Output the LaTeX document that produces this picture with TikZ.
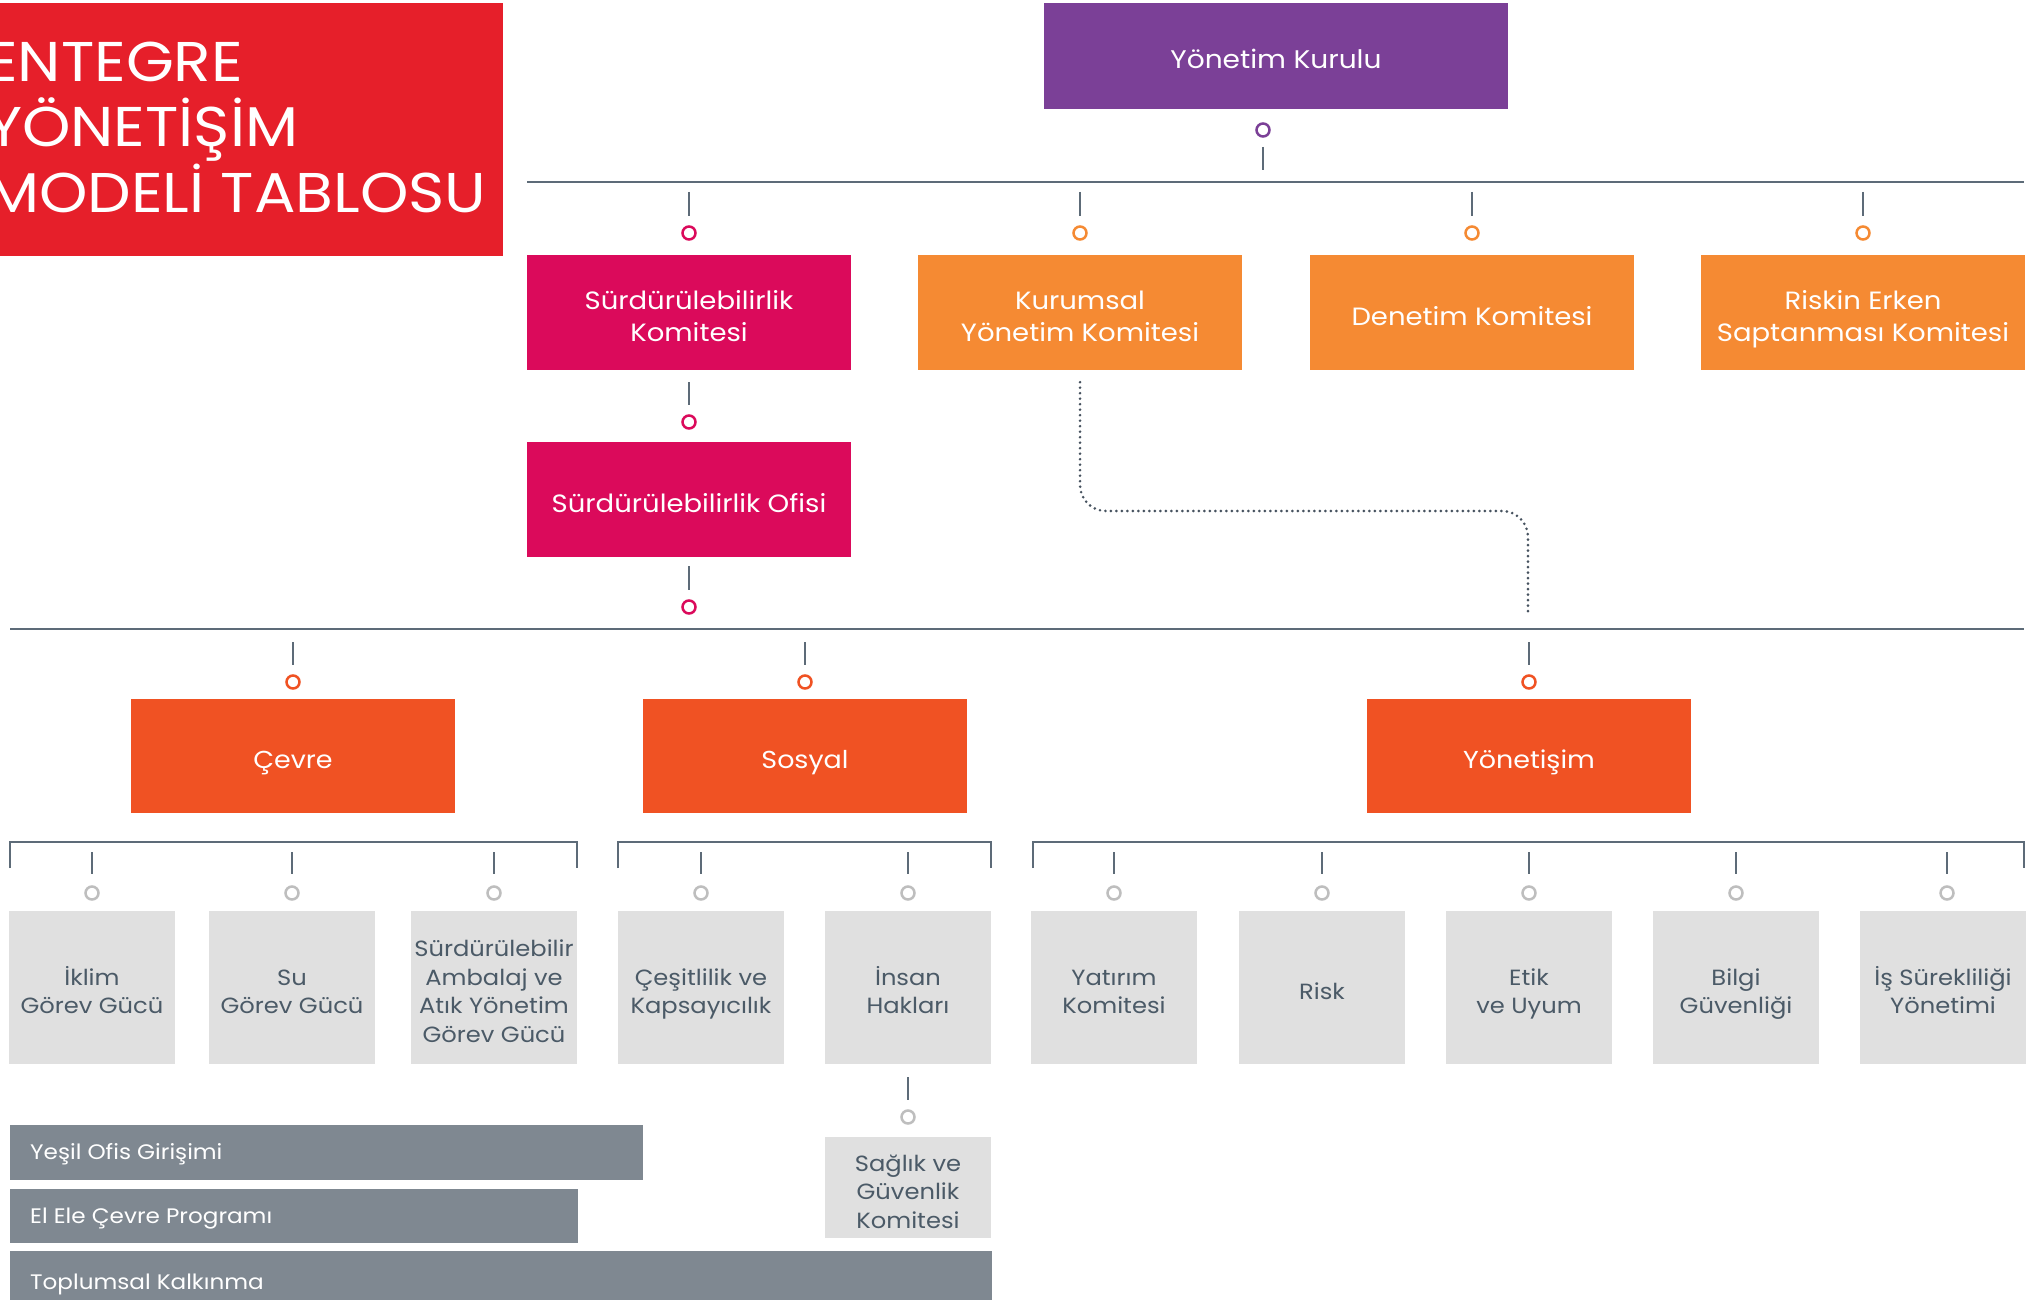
\documentclass[tikz,border=0pt]{standalone}
\usepackage{fontspec}
\setmainfont{Poppins}[FakeStretch=1.1]
\definecolor{cred}{RGB}{230,31,42}
\definecolor{cpurple}{RGB}{123,64,151}
\definecolor{cmag}{RGB}{219,10,91}
\definecolor{corange}{RGB}{245,138,51}
\definecolor{cored}{RGB}{240,82,35}
\definecolor{clgrey}{RGB}{224,224,224}
\definecolor{ctext}{RGB}{75,90,103}
\definecolor{cbar}{RGB}{127,136,145}
\definecolor{cline}{RGB}{93,107,120}
\definecolor{cdots}{RGB}{70,82,95}
\definecolor{ccirc}{RGB}{190,190,190}
\newcommand\fsz[2]{\fontsize{#1}{#2}\selectfont}
\tikzset{
  lbl/.style={rectangle, inner sep=0pt, align=center, text=white, text depth=0pt},
  topbox/.style={lbl, minimum width=324, minimum height=115, font=\fsz{25}{32.5}},
  oneline/.style={text height=25.5pt},
  twoline/.style={text height=58pt},
  midbox/.style={lbl, minimum width=324, minimum height=114, font=\fsz{24.5}{32}, text height=25pt},
  subbox/.style={lbl, fill=clgrey, text=ctext, minimum width=166, minimum height=153, font=\fsz{22}{28.5}},
  sl/.style={text height=#1},
  bar/.style={rectangle, fill=cbar, inner sep=0pt},
  bartext/.style={anchor=west, inner sep=0pt, text=white, font=\fsz{21}{24}, text height=14.7pt, text depth=0pt},
  dotc/.style={circle, draw=#1, fill=white, line width=2.5, minimum size=13, inner sep=0pt},
  tick/.style={draw=cline, line width=2},
  rule/.style={draw=cline, line width=2},
  dotline/.style={draw=cdots, line width=2.9, line cap=round, dash pattern=on 0pt off 5.5pt, rounded corners=26},
  ttl/.style={anchor=base west, inner sep=0pt, text=white, font=\fsz{56}{65}}
}
\begin{document}
\begin{tikzpicture}[x=1pt,y=-1pt]
\useasboundingbox[fill=white] (0,0) rectangle (2037,1300);
% title
\fill[cred] (0,3) rectangle (503,256);
\node[ttl] (t1) at (-14,82) {ENTEGRE};
\node[ttl] (t2) at (-14,147) {YÖNETİŞİM};
\node[ttl] (t3) at (-14,212) {MODELİ TABLOSU};
% top
\node[lbl, fill=cpurple, minimum width=464, minimum height=106, font=\fsz{25.5}{32}, text height=25pt] (yk) at (1276,56) {Yönetim Kurulu};
\node[dotc=cpurple] (cyk) at (1263,130) {};
\coordinate (tyka) at (1263,147); \coordinate (tykb) at (1263,170);
\draw[tick] (tyka) -- (tykb);
\coordinate (r1a) at (527,182); \coordinate (r1b) at (2024,182);
\draw[rule] (r1a) -- (r1b);
% row 2
\node[topbox, twoline, fill=cmag] (sk) at (689,312.5) {Sürdürülebilirlik\\Komitesi};
\node[topbox, twoline, fill=corange] (kyk) at (1080,312.5) {Kurumsal\\Yönetim Komitesi};
\node[topbox, oneline, fill=corange] (dk) at (1472,312.5) {Denetim Komitesi};
\node[topbox, twoline, fill=corange] (rek) at (1863,312.5) {Riskin Erken\\Saptanması Komitesi};
\node[dotc=cmag] (csk) at (689,233) {};
\node[dotc=corange] (ckyk) at (1080,233) {};
\node[dotc=corange] (cdk) at (1472,233) {};
\node[dotc=corange] (crek) at (1863,233) {};
\foreach \x/\n in {689/a,1080/b,1472/c,1863/d}{
  \coordinate (u\n) at (\x,192); \coordinate (v\n) at (\x,216);
  \draw[tick] (u\n) -- (v\n);
}
% ofis
\coordinate (so1) at (689,382); \coordinate (so2) at (689,405);
\draw[tick] (so1) -- (so2);
\node[dotc=cmag] (cso) at (689,422) {};
\node[topbox, oneline, fill=cmag] (so) at (689,499.5) {Sürdürülebilirlik Ofisi};
\coordinate (so3) at (689,566); \coordinate (so4) at (689,590);
\draw[tick] (so3) -- (so4);
\node[dotc=cmag] (cso2) at (689,607) {};
% dotted connector
\coordinate (dend) at (1528,614);
\draw[dotline] ([yshift=-12pt]kyk.south) |- (1300,511) -| (dend);
% second rule
\coordinate (r2a) at (10,629); \coordinate (r2b) at (2024,629);
\draw[rule] (r2a) -- (r2b);
% row 3
\node[midbox, fill=cored] (cev) at (293,756) {Çevre};
\node[midbox, fill=cored] (sos) at (805,756) {Sosyal};
\node[midbox, fill=cored] (yon) at (1529,756) {Yönetişim};
\foreach \x/\n in {293/a,805/b,1529/c}{
  \coordinate (p\n) at (\x,642); \coordinate (q\n) at (\x,665);
  \draw[tick] (p\n) -- (q\n);
  \node[dotc=cored] (cc\n) at (\x,682) {};
}
% brackets
\coordinate (b1a) at (10,868); \coordinate (b1b) at (577,868);
\draw[rule] (b1a) |- (293,842) -| (b1b);
\coordinate (b2a) at (618,868); \coordinate (b2b) at (991,868);
\draw[rule] (b2a) |- (805,842) -| (b2b);
\coordinate (b3a) at (1033,868); \coordinate (b3b) at (2024,868);
\draw[rule] (b3a) |- (1529,842) -| (b3b);
% sub boxes
\node[subbox, sl=52.9pt] (s1) at (92,987.5) {İklim\\Görev Gücü};
\node[subbox, sl=52.9pt] (s2) at (292,987.5) {Su\\Görev Gücü};
\node[subbox, sl=109.9pt] (s3) at (494,987.5) {Sürdürülebilir\\Ambalaj ve\\Atık Yönetim\\Görev Gücü};
\node[subbox, sl=52.9pt] (s4) at (701,987.5) {Çeşitlilik ve\\Kapsayıcılık};
\node[subbox, sl=52.9pt] (s5) at (908,987.5) {İnsan\\Hakları};
\node[subbox, sl=52.9pt] (s6) at (1114,987.5) {Yatırım\\Komitesi};
\node[subbox, sl=24.4pt] (s7) at (1322,987.5) {Risk};
\node[subbox, sl=52.9pt] (s8) at (1529,987.5) {Etik\\ve Uyum};
\node[subbox, sl=52.9pt] (s9) at (1736,987.5) {Bilgi\\Güvenliği};
\node[subbox, sl=52.9pt] (s10) at (1943,987.5) {İş Sürekliliği\\Yönetimi};
\foreach \x/\n in {92/a,292/b,494/c,701/d,908/e,1114/f,1322/g,1529/h,1736/i,1947/j}{
  \coordinate (m\n) at (\x,852); \coordinate (k\n) at (\x,874);
  \draw[tick] (m\n) -- (k\n);
  \node[dotc=ccirc] (cs\n) at (\x,893) {};
}
% saglik
\coordinate (sg1) at (908,1077); \coordinate (sg2) at (908,1100);
\draw[tick] (sg1) -- (sg2);
\node[dotc=ccirc] (csg) at (908,1117) {};
\node[subbox, sl=81.4pt, minimum height=101] (sg) at (908,1187.5) {Sağlık ve\\Güvenlik\\Komitesi};
% bars
\node[bar, minimum width=633, minimum height=55, anchor=north west] (b1) at (10,1125) {};
\node[bartext] (bt1) at (30,1152.5) {Yeşil Ofis Girişimi};
\node[bar, minimum width=568, minimum height=54, anchor=north west] (b2) at (10,1189) {};
\node[bartext] (bt2) at (30,1216) {El Ele Çevre Programı};
\node[bar, minimum width=982, minimum height=60, anchor=north west] (b3) at (10,1251) {};
\node[bartext] (bt3) at (30,1282) {Toplumsal Kalkınma};
\end{tikzpicture}
\end{document}
